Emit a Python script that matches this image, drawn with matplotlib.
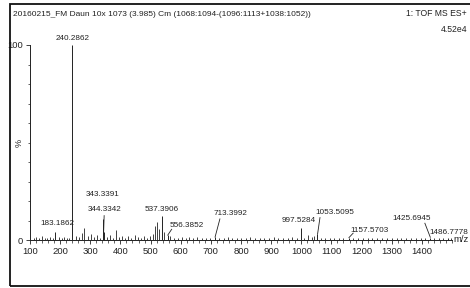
import matplotlib
matplotlib.use("Agg")

import matplotlib.pyplot as plt
from matplotlib.patches import Rectangle
from matplotlib.ticker import MultipleLocator, FixedLocator

plt.rcParams["font.family"] = ["Liberation Sans Narrow", "Liberation Sans", "DejaVu Sans"]

INK = "#222222"

title_left = "20160215_FM Daun 10x 1073 (3.985) Cm (1068:1094-(1096:1113+1038:1052))"
title_right = "1: TOF MS ES+"
base_peak = "4.52e4"

# labelled peaks (m/z, relative intensity %)
peak_mz = [183.1862, 240.2862, 343.3391, 344.3342, 537.3906, 556.3852,
           713.3992, 997.5284, 1053.5095, 1157.5703, 1425.6945, 1486.7778]
peak_int = [4.0, 100.0, 11.0, 4.0, 12.5, 2.5, 1.5, 6.0, 3.0, 1.2, 1.2, 1.0]

# unlabelled minor peaks
minor_mz = [112, 121, 130, 141, 150, 158, 166, 175, 197, 205, 214, 222, 231,
            252, 262, 271, 280, 291, 302, 312, 322, 331, 356, 365, 374, 385,
            396, 405, 416, 425, 436, 447, 458, 467, 478, 489, 498, 507, 515,
            522, 528, 543, 566, 578, 590, 603, 616, 628, 641, 655, 669, 684,
            698, 727, 742, 756, 771, 786, 800, 816, 831, 846, 862, 877, 893,
            908, 924, 940, 955, 970, 985, 1010, 1022, 1035, 1041, 1066, 1080,
            1095, 1110, 1125, 1140, 1172, 1188, 1204, 1220, 1236, 1252, 1268,
            1284, 1300, 1316, 1332, 1348, 1364, 1380, 1396, 1412, 1440, 1456,
            1471, 1497]
minor_int = [1.0, 1.5, 0.8, 2.0, 1.2, 0.9, 1.6, 1.1, 1.3, 0.8, 1.5, 1.0, 0.9,
             2.2, 1.4, 3.5, 6.0, 1.8, 3.0, 1.5, 2.4, 1.2, 1.6, 2.8, 1.1, 5.0,
             1.5, 2.2, 1.0, 1.8, 1.2, 2.5, 1.4, 1.0, 1.8, 1.2, 2.0, 3.2, 7.0,
             9.0, 5.5, 4.0, 1.8, 1.2, 1.0, 1.5, 0.8, 1.3, 1.0, 1.6, 0.9, 1.2,
             0.8, 1.1, 0.9, 1.4, 0.8, 1.0, 1.2, 0.9, 1.5, 1.0, 0.8, 1.2, 0.9,
             1.4, 1.0, 0.8, 1.2, 1.5, 1.0, 1.2, 2.5, 1.5, 2.0, 1.0, 0.8, 1.2,
             0.9, 1.0, 0.8, 0.9, 1.0, 0.8, 1.2, 0.9, 0.8, 1.0, 0.8, 1.1, 0.9,
             0.8, 1.0, 0.8, 0.9, 0.8, 1.0, 0.8, 0.9, 0.8, 1.0]

# label anchor (m/z, %) for each labelled peak
label_pos = [(190, 6.5), (240.3, 101.5), (342, 21.5), (347, 13.8), (538, 14.0),
             (620, 5.6), (765, 11.8), (993, 8.0), (1112, 12.3), (1228, 2.9),
             (1367, 9.0), (1490, 1.9)]
connectors = {3: ((344.3, 4.0), (346, 12.5)),
              5: ((557, 2.5), (570, 5.5)),
              6: ((714, 1.5), (730, 10.8)),
              8: ((1054, 3.0), (1062, 11.5)),
              9: ((1158, 1.2), (1172, 3.5)),
              10: ((1428, 1.4), (1410, 8.6))}

fig = plt.figure(figsize=(4.7, 2.88), dpi=100)
ax = fig.add_axes([30 / 470, 1 - 240 / 288, 422 / 470, 195 / 288])

ax.vlines(minor_mz, 0, minor_int, color=INK, linewidth=0.6)
ax.vlines(peak_mz, 0, peak_int, color=INK, linewidth=0.7)

for mz, (lx, ly) in zip(peak_mz, label_pos):
    ax.text(lx, ly, f"{mz:.4f}", ha="center", va="bottom", fontsize=5.9,
            color=INK)
for p0, p1 in connectors.values():
    ax.plot([p0[0], p1[0]], [p0[1], p1[1]], color=INK, linewidth=0.6)

ax.set_xlim(100, 1500)
ax.set_ylim(0, 100)

for s in ["top", "right"]:
    ax.spines[s].set_visible(False)
for s in ["left", "bottom"]:
    ax.spines[s].set_linewidth(0.7)
    ax.spines[s].set_color(INK)

ax.set_xticks(range(100, 1401, 100))
ax.xaxis.set_minor_locator(MultipleLocator(20))
ax.yaxis.set_major_locator(FixedLocator([0, 100]))
ax.yaxis.set_minor_locator(MultipleLocator(10))
ax.tick_params(axis="both", which="major", labelsize=6.8, colors=INK,
               length=3, width=0.6, pad=2)
ax.tick_params(axis="both", which="minor", length=1.8, width=0.5, colors=INK)
ax.text(-0.014, 0.5, "%", transform=ax.transAxes, rotation=90, ha="right",
        va="center", fontsize=6.5, color=INK)
ax.text(1.004, 0.0, "m/z", transform=ax.transAxes, ha="left", va="center",
        fontsize=6.8, color=INK)

fig.text(13 / 470, 1 - 14 / 288, title_left, ha="left", va="center",
         fontsize=6.0, color=INK)
fig.text(467 / 470, 1 - 14 / 288, title_right, ha="right", va="center",
         fontsize=6.2, color=INK)
fig.text(467 / 470, 1 - 30 / 288, base_peak, ha="right", va="center",
         fontsize=6.2, color=INK)

fig.patches.append(Rectangle((9.5 / 470, 1 - 286 / 288), 480 / 470,
                             282 / 288, transform=fig.transFigure,
                             fill=False, edgecolor="#111111", linewidth=1.3))

fig.savefig("out.png", dpi=100)
